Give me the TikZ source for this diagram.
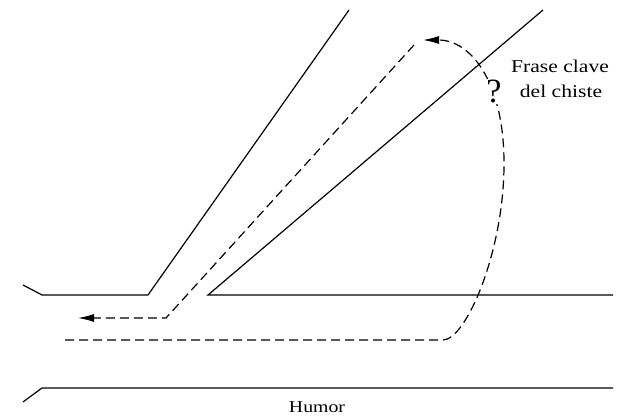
\documentclass[tikz,border=0pt]{standalone}
\usepackage{fontspec}
\setmainfont{Liberation Serif}
\newfontfamily\labelfont[FakeStretch=1.2]{Liberation Serif}
\usetikzlibrary{arrows.meta}
\begin{document}
\begin{tikzpicture}[x=1pt,y=-1pt,line width=1.2pt,
  trail/.style={dash pattern=on 9pt off 5pt},
  tip/.style={-{Latex[length=16pt,width=8pt]}},
  label/.style={anchor=base,font=\labelfont\fontsize{18}{20}\selectfont}]
  \useasboundingbox (0,0) rectangle (623,419);
  % walls of the road
  \draw (23,285) -- (42,295) -- (148,295) -- (349,10);
  \draw (543,10) -- (208,295) -- (613,295);
  \draw (23,402) -- (42,388) -- (613,388);
  \node[label,font=\labelfont\fontsize{16.5}{20}\selectfont] (humor) at (317,412) {Humor};
  % the trip through the joke
  \draw[trail,tip] (65,340) -- (443,340) .. controls (466,340) and (505,250) .. (504,160)
    .. controls (503,80) and (470,40) .. (423,40);
  \draw[trail,tip] (414,45) -- (166,318) -- (78,318);
  \node[anchor=base,fill=white,inner sep=1pt,font=\fontsize{34}{34}\selectfont] (q) at (494,103) {?};
  \node[label] (frase) at (560,73) {Frase clave};
  \node[label] (chiste) at (561,98) {del chiste};
\end{tikzpicture}
\end{document}
